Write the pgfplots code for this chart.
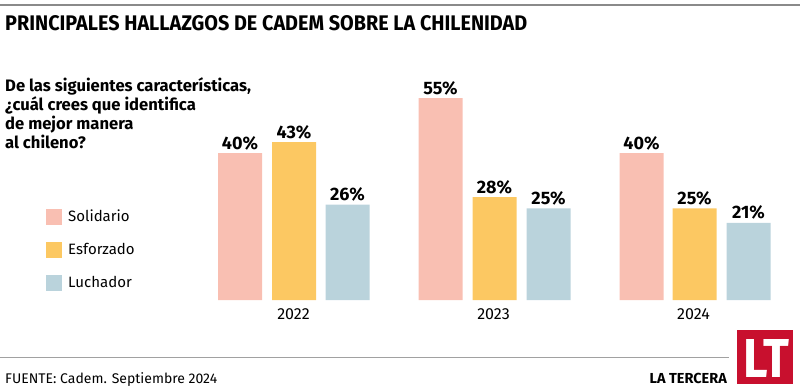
\documentclass[border=0pt]{standalone}
\usepackage{fontspec}
\setmainfont{Fira Sans}
\usepackage{pgfplots}
\pgfplotsset{compat=1.18}
\definecolor{sol}{HTML}{F9BFB2}
\definecolor{esf}{HTML}{FCC862}
\definecolor{luc}{HTML}{BAD3DC}
\definecolor{ltred}{HTML}{C8102E}
\definecolor{rulec}{HTML}{8A8A8A}
\begin{document}
\begin{tikzpicture}
\path[use as bounding box] (0,0) rectangle (800bp,-392bp);
\draw[rulec, line width=2bp] (0,-5bp) -- (800bp,-5bp);
\node[anchor=base west, inner sep=0] at (5bp,-31bp) {\resizebox{522bp}{15bp}{\bfseries PRINCIPALES HALLAZGOS DE CADEM SOBRE LA CHILENIDAD}};
\begin{scope}[every node/.style={anchor=base west, inner sep=0, font=\bfseries\fontsize{16.6bp}{19bp}\selectfont}]
\node at (5bp,-91bp) {De las siguientes características,};
\node at (5bp,-110bp) {¿cuál crees que identifica};
\node at (5bp,-129bp) {de mejor manera};
\node at (5bp,-148bp) {al chileno?};
\end{scope}
\begin{axis}[
  at={(200bp,-300bp)}, anchor=south west,
  scale only axis, width=590bp, height=220.2bp,
  xmin=200, xmax=790, ymin=0, ymax=60,
  clip=false,
  hide y axis,
  axis x line=bottom,
  x axis line style={draw=none},
  xtick style={draw=none},
  xtick={293.5,493.5,693.5},
  xticklabels={2022,2023,2024},
  xticklabel style={anchor=base, inner sep=0, yshift=-17bp, font=\fontsize{16bp}{16bp}\selectfont},
  /pgf/number format/assume math mode=true,
  nodes near coords={\pgfmathprintnumber[precision=0]{\pgfplotspointmeta}\%},
  nodes near coords style={anchor=base, inner sep=0, yshift=4bp, font=\bfseries\fontsize{18bp}{18bp}\selectfont},
  point meta=y,
  legend style={at={(-0.261,0.416)}, anchor=north west, draw=none, fill=none, inner sep=0pt,
    font=\fontsize{15bp}{15bp}\selectfont, row sep=17bp,
    nodes={inner sep=0pt, text height=12bp, text depth=2bp}},
  legend cell align=left,
  legend image code/.code={\fill[#1, draw=none] (0bp,-8bp) rectangle (16bp,8bp);\path (22bp,0);},
]
\addplot[ybar, bar shift=0pt, bar width=44bp, fill=sol, draw=none] coordinates {(240,40) (440.5,55) (641.5,40)};
\addlegendentry{Solidario}
\addplot[ybar, bar shift=0pt, bar width=44bp, fill=esf, draw=none] coordinates {(294,43) (494.5,28) (694.5,25)};
\addlegendentry{Esforzado}
\addplot[ybar, bar shift=0pt, bar width=44bp, fill=luc, draw=none] coordinates {(347.5,26) (548.5,25) (748.5,21)};
\addlegendentry{Luchador}
\end{axis}
\draw[rulec!80, line width=1.5bp] (0,-357.5bp) -- (729bp,-357.5bp);
\node[anchor=base west, inner sep=0, font=\fontsize{14bp}{14bp}\selectfont] at (5bp,-383bp) {FUENTE: Cadem. Septiembre 2024};
\node[anchor=base east, inner sep=0, font=\bfseries\fontsize{14.5bp}{14.5bp}\selectfont] at (727bp,-383bp) {LA TERCERA};
\fill[ltred] (737bp,-330bp) rectangle (793bp,-384bp);
\node[anchor=base west, inner sep=0, text=white] at (743bp,-377bp) {\resizebox{46bp}{38bp}{\bfseries LT}};
\end{tikzpicture}
\end{document}
